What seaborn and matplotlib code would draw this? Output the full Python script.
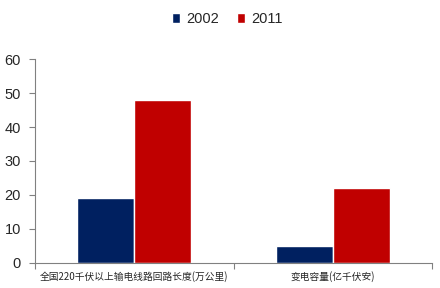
import matplotlib
matplotlib.use("Agg")
import matplotlib.pyplot as plt
import seaborn as sns
import pandas as pd

categories = ["全国220千伏以上输电线路回路长度(万公里)", "变电容量(亿千伏安)"]
years = ["2002", "2011"]
values_2002 = [19, 5]
values_2011 = [48, 22]
yticks = [0, 10, 20, 30, 40, 50, 60]

df = pd.DataFrame({
    "cat": categories * 2,
    "year": [years[0]] * 2 + [years[1]] * 2,
    "val": values_2002 + values_2011,
})

sns.set_theme(style="white")
plt.rcParams['font.family'] = ['Noto Sans CJK SC', 'DejaVu Sans']

fig = plt.figure(figsize=(4.4, 2.88), dpi=100)
ax = fig.add_axes([0.0795, 0.087, 0.9025, 0.708])
sns.barplot(data=df, x="cat", y="val", hue="year", order=categories, hue_order=years,
            palette=["#002060", "#C00000"], width=0.575, edgecolor="white", linewidth=1,
            ax=ax, saturation=1)
ax.set_xlim(-0.5, 1.5)
ax.set_ylim(0, 60)
ax.set_yticks(yticks)
ax.set_yticklabels([str(t) for t in yticks], fontsize=10.5, family=['Liberation Sans', 'DejaVu Sans'])
ax.set_xlabel("")
ax.set_ylabel("")
ax.set_xticks([0, 1])
ax.set_xticklabels(categories, fontsize=7)
ax.tick_params(axis="x", which="major", length=0, pad=6)
ax.set_xticks([-0.5, 0.5, 1.5], minor=True)
ax.tick_params(axis="x", which="minor", length=4, color="#808080", width=0.8, direction="out", bottom=True)
ax.tick_params(axis="y", length=4, color="#808080", width=0.8, direction="out", left=True, pad=6)
for s in ["top", "right"]:
    ax.spines[s].set_visible(False)
for s in ["left", "bottom"]:
    ax.spines[s].set_color("#808080")
    ax.spines[s].set_linewidth(0.8)
leg = ax.legend(loc="center", bbox_to_anchor=(0.484, 1.196), ncol=2, frameon=False,
                handlelength=0.6, handleheight=0.6, handletextpad=0.4, columnspacing=1.2,
                prop={'family': ['Liberation Sans', 'DejaVu Sans'], 'size': 10.5})
fig.savefig("out.png", dpi=100)
